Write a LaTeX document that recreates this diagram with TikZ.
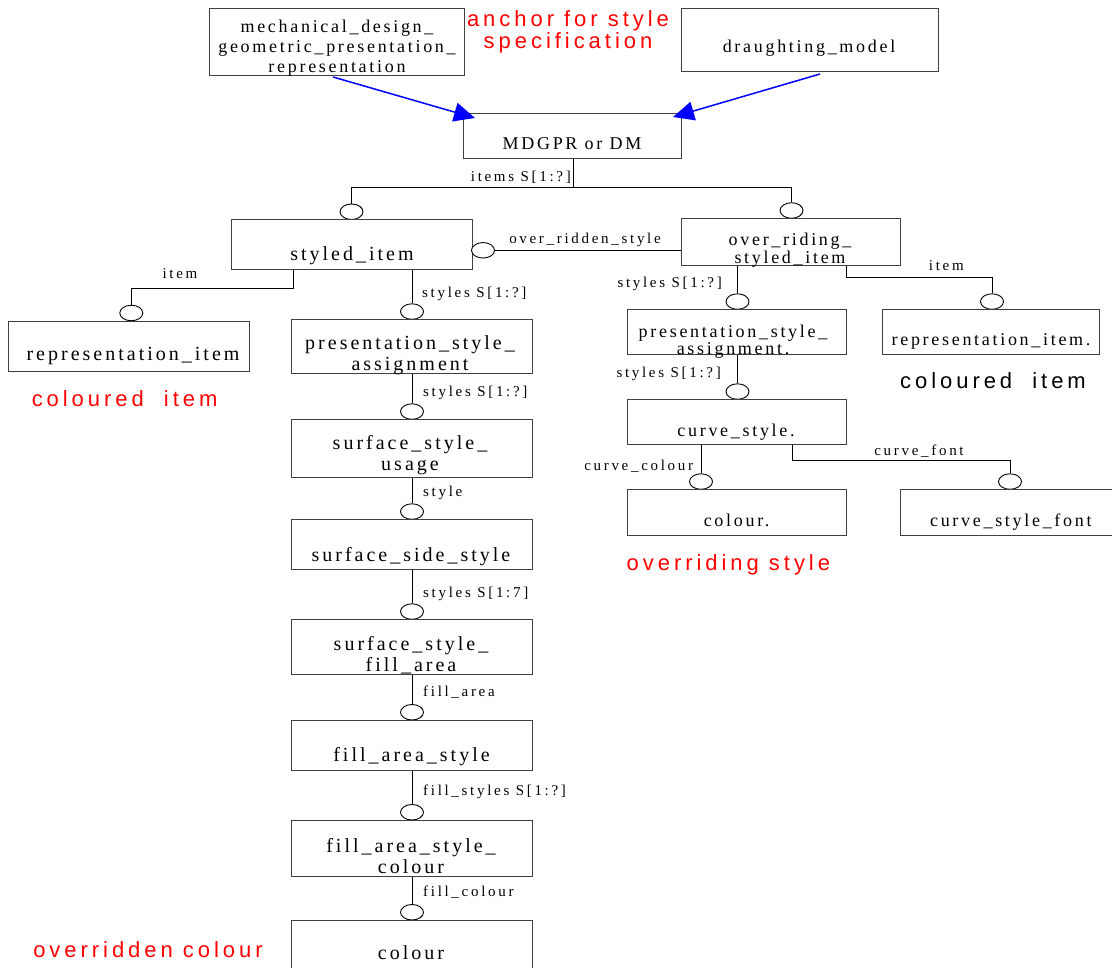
\documentclass[tikz,border=0pt]{standalone}
\usepackage{fontspec}
\setmainfont{Liberation Serif}
\newfontfamily\bxf[LetterSpace=15]{Liberation Serif}
\newfontfamily\lbf[LetterSpace=18]{Liberation Serif}
\newfontfamily\rdf[LetterSpace=18]{Liberation Sans}
\usetikzlibrary{shapes.geometric,arrows.meta}
\tikzset{
  box/.style={draw=black!75, line width=1pt, inner sep=0pt, anchor=north west},
  bigtxt/.style={font=\bxf\fontsize{20}{21}\selectfont, align=center, inner sep=0pt, anchor=base},
  smtxt/.style={font=\bxf\fontsize{18}{17.5}\selectfont, align=center, inner sep=0pt, anchor=base},
  toptxt/.style={font=\bxf\fontsize{18}{20}\selectfont, align=center, inner sep=0pt, anchor=base},
  lbl/.style={font=\lbf\fontsize{15}{16}\selectfont, inner sep=0pt},
  note/.style={font=\rdf\fontsize{22}{20}\selectfont, align=center, inner sep=0pt, anchor=base},
  circ/.style={ellipse, draw=black, line width=0.9pt, fill=white, minimum width=23pt, minimum height=15.5pt, inner sep=0pt},
  conn/.style={draw=black, line width=0.9pt},
  bluearrow/.style={draw=blue, line width=1.5pt, -{Triangle[length=21pt,width=19pt]}},
}
\begin{document}
\begin{tikzpicture}[x=1pt,y=-1pt]
\useasboundingbox (0,0) rectangle (1112,968);

% top boxes
\node[box, minimum width=255pt, minimum height=67pt] (mdg) at (209,8) {};
\node[toptxt] (mdgT) at (337,73) {mechanical\_design\_\\geometric\_presentation\_\\representation};
\node[box, minimum width=257pt, minimum height=63pt] (dm) at (681,8) {};
\node[toptxt] (dmT) at (809,53) {draughting\_model};
\node[note, text=red] (anchorT) at (568,48.3) {anchor for style\\specification};

\node[box, minimum width=218pt, minimum height=45pt] (top) at (463,113) {};
\node[toptxt] (topT) at (572,150) {MDGPR or DM};

\coordinate (a1) at (333,77);
\coordinate (a2) at (475,118);
\coordinate (b1) at (820,74);
\coordinate (b2) at (673,117);
\draw[bluearrow] (a1) -- (a2);
\draw[bluearrow] (b1) -- (b2);

% items
\node[circ] (c1) at (351.5,211.75) {};
\node[circ] (c2) at (791.5,210.5) {};
\coordinate (j0) at (573,187);
\draw[conn] (top.south -| j0) -- (j0);
\draw[conn] (c1.north) -- (c1.north |- j0) -- (c2.north |- j0) -- (c2.north);
\node[lbl, anchor=base east] (itemsL) at (571,182) {items S[1:?]};

% styled_item
\node[box, minimum width=241pt, minimum height=50pt] (si) at (230.5,219.5) {};
\node[bigtxt] (siT) at (352,261) {styled\_item};

% over_riding_styled_item
\node[box, minimum width=219pt, minimum height=46.7pt] (or) at (681,218.3) {};
\node[smtxt] (orT) at (790,263.3) {over\_riding\_\\styled\_item};

% over_ridden_style
\node[circ] (c3) at (483,250.3) {};
\draw[conn] (c3.east) -- (c3.east -| or.west);
\node[lbl, anchor=base] (orsL) at (585,244) {over\_ridden\_style};

% styled_item -> representation_item
\node[circ] (c4) at (131.3,313) {};
\coordinate (k1) at (293,288);
\draw[conn] (si.south -| k1) -- (k1) -| (c4.north);
\node[lbl, anchor=base] (itemL1) at (180,279) {item};
\node[box, minimum width=241pt, minimum height=50pt] (ri) at (8,320.7) {};
\node[bigtxt] (riT) at (133,361) {representation\_item};
\node[note, text=red] (col1) at (124.6,406.7) {coloured\ \ item};

% left column
\node[circ] (c5) at (412,311.55) {};
\draw[conn] (si.south -| c5) -- (c5.north);
\node[lbl, anchor=base west] (sL1) at (422,298) {styles S[1:?]};
\node[box, minimum width=240.7pt, minimum height=54pt] (psa) at (291,319.3) {};
\node[bigtxt] (psaT) at (410,371) {presentation\_style\_\\assignment};

\node[circ] (c6) at (412,411.55) {};
\draw[conn] (psa.south -| c6) -- (c6.north);
\node[lbl, anchor=base west] (sL2) at (423,397) {styles S[1:?]};
\node[box, minimum width=240.7pt, minimum height=57.4pt] (ssu) at (291,419.3) {};
\node[bigtxt] (ssuT) at (410,470.7) {surface\_style\_\\usage};

\node[circ] (c7) at (412,511.55) {};
\draw[conn] (ssu.south -| c7) -- (c7.north);
\node[lbl, anchor=base west] (sL3) at (423,496) {style};
\node[box, minimum width=240.7pt, minimum height=50pt] (sss) at (291,519.3) {};
\node[bigtxt] (sssT) at (411,561) {surface\_side\_style};

\node[circ] (c8) at (412,611.55) {};
\draw[conn] (sss.south -| c8) -- (c8.north);
\node[lbl, anchor=base west] (sL4) at (423,597) {styles S[1:7]};
\node[box, minimum width=240.7pt, minimum height=55pt] (ssfa) at (291,619.3) {};
\node[bigtxt] (ssfaT) at (411,671.7) {surface\_style\_\\fill\_area};

\node[circ] (c9) at (412,712.25) {};
\draw[conn] (ssfa.south -| c9) -- (c9.north);
\node[lbl, anchor=base west] (sL5) at (423,696.7) {fill\_area};
\node[box, minimum width=240.7pt, minimum height=50pt] (fas) at (291,720) {};
\node[bigtxt] (fasT) at (411.5,761.7) {fill\_area\_style};

\node[circ] (c10) at (412,812.25) {};
\draw[conn] (fas.south -| c10) -- (c10.north);
\node[lbl, anchor=base west] (sL6) at (423,795) {fill\_styles S[1:?]};
\node[box, minimum width=240.7pt, minimum height=56pt] (fasc) at (291,820) {};
\node[bigtxt] (fascT) at (411,873.3) {fill\_area\_style\_\\colour};

\node[circ] (c11) at (412,912.25) {};
\draw[conn] (fasc.south -| c11) -- (c11.north);
\node[lbl, anchor=base west] (sL7) at (423,896.7) {fill\_colour};
\node[box, minimum width=240.7pt, minimum height=60pt] (col) at (291,920) {};
\node[bigtxt] (colT) at (411,959) {colour};
\node[note, text=red] (ovc) at (148,957) {overridden colour};

% right column
\node[circ] (c12) at (737.5,301.55) {};
\draw[conn] (or.south -| c12) -- (c12.north);
\node[lbl, anchor=base east] (rL1) at (722,287.3) {styles S[1:?]};
\node[box, minimum width=219pt, minimum height=44.7pt] (psa2) at (627,309.3) {};
\node[smtxt] (psa2T) at (733,355) {presentation\_style\_\\assignment.};

\node[circ] (c13) at (737.5,391.55) {};
\draw[conn] (psa2.south -| c13) -- (c13.north);
\node[lbl, anchor=base east] (rL2) at (721,377.3) {styles S[1:?]};
\node[box, minimum width=219pt, minimum height=45pt] (cs) at (627,399.3) {};
\node[smtxt] (csT) at (736,437) {curve\_style.};

\node[circ] (c14) at (701,481.55) {};
\draw[conn] (cs.south -| c14) -- (c14.north);
\node[lbl, anchor=base east] (rL3) at (693.3,470.7) {curve\_colour};
\node[box, minimum width=219pt, minimum height=45.7pt] (col2) at (627,489.3) {};
\node[smtxt] (col2T) at (736.6,526) {colour.};

\node[circ] (c15) at (1010,481.55) {};
\coordinate (k2) at (792,460.7);
\draw[conn] (cs.south -| k2) -- (k2) -| (c15.north);
\node[lbl, anchor=base] (rL4) at (919,455.5) {curve\_font};
\node[box, minimum width=212pt, minimum height=45.7pt] (csf) at (899.5,489.3) {};
\node[smtxt] (csfT) at (1010.8,526) {curve\_style\_font};
\node[note, text=red] (ovs) at (728.4,570.7) {overriding style};

\node[circ] (c16) at (992,301.55) {};
\coordinate (k3) at (846.7,277);
\draw[conn] (or.south -| k3) -- (k3) -| (c16.north);
\node[lbl, anchor=base] (rL5) at (946.3,271) {item};
\node[box, minimum width=217.6pt, minimum height=44.7pt] (ri2) at (881.7,309.3) {};
\node[smtxt] (ri2T) at (991,345.7) {representation\_item.};
\node[note, text=black] (col3) at (993,388.3) {coloured\ \ item};
\end{tikzpicture}
\end{document}
